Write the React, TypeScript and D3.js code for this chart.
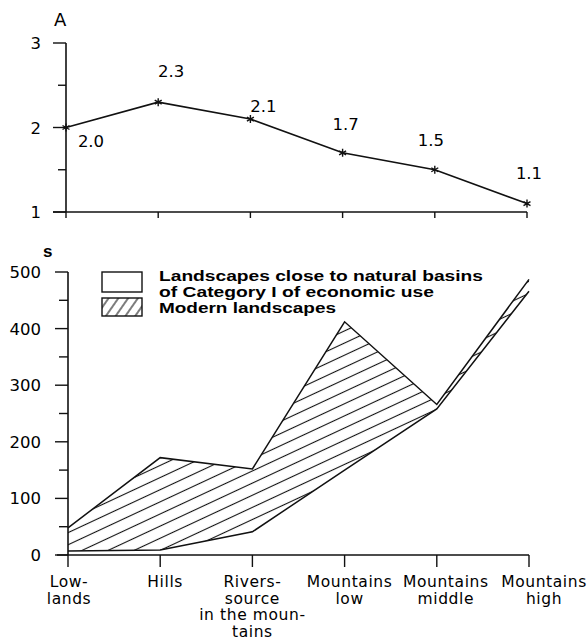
import React from "react";
import { scalePoint, scaleLinear, line, area, symbol, symbolAsterisk, range } from "d3";

// categories along both x axes
const categories = ["lowlands", "hills", "rivers", "mtnLow", "mtnMiddle", "mtnHigh"];
const categoryLabels = [
  ["Low-", "lands"],
  ["Hills"],
  ["Rivers-", "source", "in the moun-", "tains"],
  ["Mountains", "low"],
  ["Mountains", "middle"],
  ["Mountains", "high"],
];

// panel A
const indexA = [2.0, 2.3, 2.1, 1.7, 1.5, 1.1];
const indexATicks = [1, 2, 3];

// panel S
const closeToNatural = [48, 172, 152, 412, 266, 487];
const modernLower = [7, 9, 41, 150, 258, 466];
const sTicks = [0, 100, 200, 300, 400, 500];

const legendLines = ["Landscapes close to natural basins", "of Category I of economic use"];
const legendModern = "Modern landscapes";

// nudges for value labels in panel A [dx, dy]
const labelNudge = [
  [25, 19],
  [13, -25],
  [13, -7],
  [3, -23],
  [-4, -24],
  [2, -25],
];

const numFont = "'DejaVu Sans', sans-serif";
const legFont = "'Liberation Sans', Arial, sans-serif";
const labFont = "'DejaVu Sans', sans-serif";

export default function App() {
  const width = 588;
  const height = 641;

  const xTop = scalePoint().domain(categories).range([66, 527]);
  const yTop = scaleLinear().domain([1, 3]).range([212, 43]);

  const xBot = scalePoint().domain(categories).range([68, 529]);
  const yBot = scaleLinear().domain([0, 500]).range([555, 272]);

  const topLine = line<number>()
    .x((_, i) => xTop(categories[i])!)
    .y((d) => yTop(d));

  const upperLine = line<number>()
    .x((_, i) => xBot(categories[i])!)
    .y((d) => yBot(d));

  const band = area<number>()
    .x((_, i) => xBot(categories[i])!)
    .y0((_, i) => yBot(modernLower[i]))
    .y1((d) => yBot(d));

  const star = symbol().type(symbolAsterisk).size(45)()!;

  return (
    <div style={{ position: "absolute", left: 0, top: 0 }}>
      <svg width={width} height={height} style={{ display: "block", background: "#fff" }}>
        <defs>
          <pattern
            id="hatch"
            patternUnits="userSpaceOnUse"
            width={20}
            height={11}
            patternTransform="rotate(-25)"
          >
            <line x1={-2} x2={22} y1={5.5} y2={5.5} stroke="#111" strokeWidth={1.1} />
          </pattern>
          <pattern
            id="hatchLegend"
            patternUnits="userSpaceOnUse"
            width={8}
            height={8}
            patternTransform="rotate(-55)"
          >
            <line x1={-2} x2={10} y1={4} y2={4} stroke="#111" strokeWidth={1.1} />
          </pattern>
        </defs>

        {/* ---------- panel A ---------- */}
        <text x={54} y={26} fontFamily={numFont} fontSize={18}>
          A
        </text>
        <line x1={66} x2={66} y1={yTop(3)} y2={yTop(1)} stroke="#111" strokeWidth={1.6} />
        <line x1={53} x2={xTop("mtnHigh")} y1={yTop(1)} y2={yTop(1)} stroke="#111" strokeWidth={1.6} />
        {range(1, 3.01, 0.5).map((t) => (
          <line
            key={t}
            x1={Number.isInteger(t) ? 53 : 58}
            x2={66}
            y1={yTop(t)}
            y2={yTop(t)}
            stroke="#111"
            strokeWidth={1.4}
          />
        ))}
        {indexATicks.map((t) => (
          <text
            key={t}
            x={41}
            y={yTop(t) + 6}
            textAnchor="end"
            fontFamily={numFont}
            fontSize={16.5}
          >
            {t}
          </text>
        ))}
        {categories.map((c) => (
          <line key={c} x1={xTop(c)} x2={xTop(c)} y1={212} y2={218} stroke="#111" strokeWidth={1.4} />
        ))}
        <path d={topLine(indexA)!} fill="none" stroke="#111" strokeWidth={1.6} />
        {indexA.map((v, i) => (
          <path
            key={i}
            d={star}
            transform={`translate(${xTop(categories[i])},${yTop(v)})`}
            stroke="#111"
            strokeWidth={1.4}
            fill="none"
          />
        ))}
        {indexA.map((v, i) => (
          <text
            key={i}
            x={xTop(categories[i])! + labelNudge[i][0]}
            y={yTop(v) + labelNudge[i][1]}
            textAnchor="middle"
            fontFamily={numFont}
            fontSize={16.5}
          >
            {v.toFixed(1)}
          </text>
        ))}

        {/* ---------- panel S ---------- */}
        <text x={43} y={257} fontFamily={legFont} fontSize={17} fontWeight="bold">
          s
        </text>
        <line x1={68} x2={68} y1={yBot(500)} y2={yBot(0)} stroke="#111" strokeWidth={1.6} />
        <line x1={57} x2={xBot("mtnHigh")} y1={yBot(0)} y2={yBot(0)} stroke="#111" strokeWidth={1.6} />
        {range(0, 501, 50).map((t) => (
          <line
            key={t}
            x1={t % 100 === 0 ? 55 : 59}
            x2={68}
            y1={yBot(t)}
            y2={yBot(t)}
            stroke="#111"
            strokeWidth={1.4}
          />
        ))}
        {sTicks.map((t) => (
          <text
            key={t}
            x={41}
            y={yBot(t) + 6}
            textAnchor="end"
            fontFamily={numFont}
            fontSize={16.5}
          >
            {t}
          </text>
        ))}
        {categories.map((c) => (
          <line key={c} x1={xBot(c)} x2={xBot(c)} y1={555} y2={567} stroke="#111" strokeWidth={1.4} />
        ))}
        {categoryLabels.map((rows, i) =>
          rows.map((r, j) => (
            <text
              key={`${i}-${j}`}
              x={xBot(categories[i])! + [1, 5, 0, 5, 9, 15][i]}
              y={587 + j * 16.6}
              textAnchor="middle"
              fontFamily={labFont}
              fontSize={15.5}
              letterSpacing={0.6}
            >
              {r}
            </text>
          ))
        )}

        <path d={band(closeToNatural)!} fill="url(#hatch)" stroke="none" />
        <path d={upperLine(closeToNatural)!} fill="none" stroke="#111" strokeWidth={1.5} />
        <path d={upperLine(modernLower)!} fill="none" stroke="#111" strokeWidth={1.5} />

        {/* legend */}
        <rect x={102} y={272} width={40} height={20} fill="#fff" stroke="#111" strokeWidth={1.4} />
        <rect x={102} y={298} width={40} height={18} fill="url(#hatchLegend)" stroke="#111" strokeWidth={1.4} />
        {legendLines.map((t, i) => (
          <text
            key={i}
            x={159}
            y={281 + i * 16}
            fontFamily={legFont}
            fontSize={15.5}
            fontWeight="bold"
            textLength={i === 0 ? 324 : 275}
            lengthAdjust="spacingAndGlyphs"
          >
            {t}
          </text>
        ))}
        <text
          x={159}
          y={313}
          fontFamily={legFont}
          fontSize={15.5}
          fontWeight="bold"
          textLength={177}
          lengthAdjust="spacingAndGlyphs"
        >
          {legendModern}
        </text>
      </svg>
    </div>
  );
}
